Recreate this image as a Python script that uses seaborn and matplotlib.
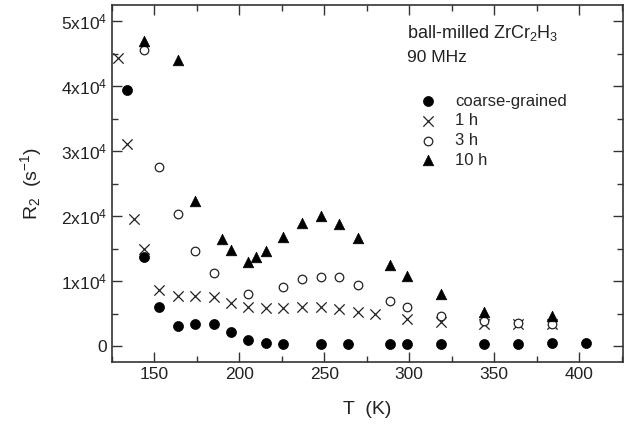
import pandas as pd
import matplotlib
matplotlib.use('Agg')
import matplotlib.pyplot as plt
import seaborn as sns
from matplotlib.ticker import MultipleLocator, FuncFormatter

# Data: T (K) and R2 (s^-1)
T_coarse = [134, 144, 153, 164, 174, 185, 195, 205, 216, 226, 248, 264, 289, 299, 319, 344, 364, 384, 404]
R_coarse = [39400, 13700, 6000, 3200, 3400, 3450, 2200, 950, 600, 400, 300, 300, 300, 300, 350, 350, 400, 450, 450]

T_1h = [128.5, 134, 138, 144, 153, 164, 174, 185, 195, 205, 216, 226, 237, 248, 259, 270, 280, 299, 319, 344, 364, 384]
R_1h = [44300, 31100, 19600, 15000, 8650, 7800, 7700, 7550, 6650, 6100, 5950, 5950, 6050, 6050, 5800, 5350, 5000, 4250, 3700, 3400, 3500, 3400]

T_3h = [144, 153, 164, 174, 185, 205, 226, 237, 248, 259, 270, 289, 299, 319, 344, 364, 384]
R_3h = [45600, 27600, 20400, 14600, 11350, 8000, 9100, 10400, 10750, 10650, 9450, 7050, 6100, 4600, 3950, 3600, 3450]

T_10h = [144, 164, 174, 190, 195, 205, 210, 216, 226, 237, 248, 259, 270, 289, 299, 319, 344, 384]
R_10h = [47000, 44000, 22400, 16500, 14850, 13000, 13700, 14700, 16900, 19000, 20100, 18800, 16700, 12500, 10800, 8000, 5350, 4650]

sns.set_style('ticks')
plt.rcParams['font.family'] = ['Liberation Sans', 'DejaVu Sans']
plt.rcParams['mathtext.fontset'] = 'custom'
plt.rcParams['mathtext.rm'] = 'Liberation Sans'
plt.rcParams['mathtext.it'] = 'Liberation Sans'
plt.rcParams['mathtext.default'] = 'regular'

fig = plt.figure(figsize=(6.26, 4.32), dpi=100)
ax = fig.add_axes([0.1784, 0.162, 0.8173, 0.8264])

sns.scatterplot(x=T_coarse, y=R_coarse, ax=ax, marker='o', s=52, color='black',
                edgecolor='black', linewidth=0.5, label='coarse-grained', zorder=3)
sns.scatterplot(x=T_1h, y=R_1h, ax=ax, marker='x', s=55, color='#222222',
                linewidth=0.9, label='1 h', zorder=3)
sns.scatterplot(x=T_3h, y=R_3h, ax=ax, marker='o', s=38, facecolor='white',
                edgecolor='#222222', linewidth=0.9, label='3 h', zorder=3)
sns.scatterplot(x=T_10h, y=R_10h, ax=ax, marker='^', s=58, color='black',
                edgecolor='black', linewidth=0.5, label='10 h', zorder=4)

ax.set_xlim(125, 426)
ax.set_ylim(-2400, 52500)

ax.xaxis.set_major_locator(MultipleLocator(50))
ax.xaxis.set_minor_locator(MultipleLocator(25))
ax.yaxis.set_major_locator(MultipleLocator(10000))
ax.yaxis.set_minor_locator(MultipleLocator(5000))


def yfmt(v, pos):
    k = int(round(v / 10000))
    if k == 0:
        return '0'
    return f'{k}x10$^4$'


ax.yaxis.set_major_formatter(FuncFormatter(yfmt))
ax.tick_params(which='both', direction='in', top=True, right=True, colors='#333333',
               labelcolor='#222222', labelsize=12.5)
ax.tick_params(which='major', length=7, width=1)
ax.tick_params(which='minor', length=4, width=1)
for sp in ax.spines.values():
    sp.set_linewidth(1.2)
    sp.set_color('#333333')

ax.set_xlabel('T  (K)', fontsize=14, color='#222222', labelpad=14)
ax.set_ylabel('R$_2$  (s$^{-1}$)', fontsize=14, color='#222222', labelpad=12)

ax.text(0.578, 0.9216, r'ball-milled ZrCr$_2$H$_3$', transform=ax.transAxes,
        fontsize=13, color='#222222', va='center')
ax.text(0.578, 0.854, '90 MHz', transform=ax.transAxes,
        fontsize=12.5, color='#222222', va='center')

ax.legend(loc='upper left', bbox_to_anchor=(0.585, 0.77), frameon=False,
          fontsize=12, handletextpad=1.05, labelspacing=0.28, borderaxespad=0,
          handlelength=1.2)

fig.savefig('out.png', dpi=100)
